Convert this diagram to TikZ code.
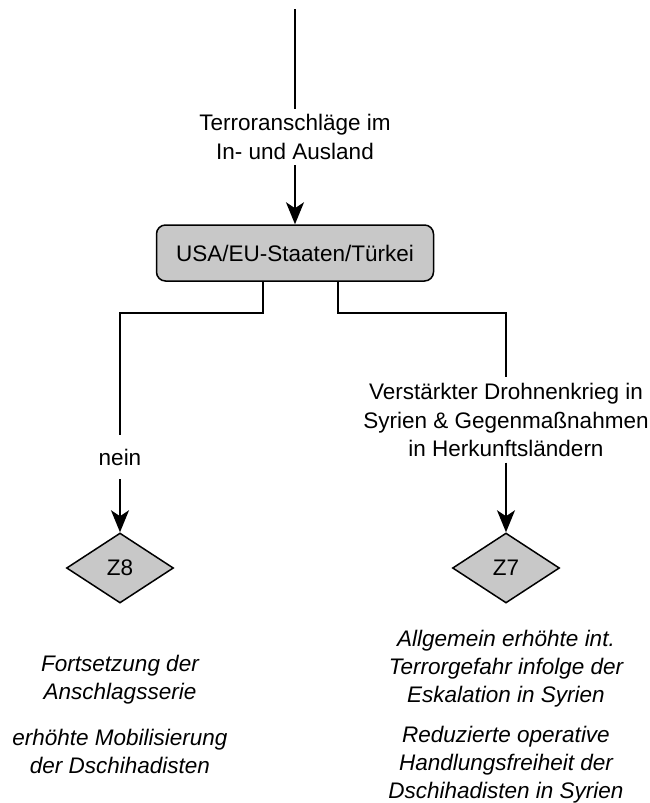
\documentclass[tikz,border=0pt]{standalone}
\usepackage{fontspec}
\setmainfont{Liberation Sans}
\usetikzlibrary{positioning,calc,arrows.meta,shapes.geometric}
\definecolor{kastengrau}{RGB}{200,200,200}
\tikzset{
	schrift/.style={font=\fontsize{22.5}{28.5}\selectfont},
	pfeil/.style={-{Stealth[length=22pt,width=18pt,inset=6pt]}},
	kasten/.style={draw, fill=kastengrau, rounded corners=9pt, minimum width=277pt, minimum height=56pt, line width=1.5pt},
	raute/.style={diamond, draw, fill=kastengrau, minimum width=107pt, minimum height=70pt, inner sep=0pt, aspect=1.5, line width=1.5pt},
	ergebnis/.style={font=\fontsize{22.5}{28}\selectfont\itshape}
}

\begin{document}
\begin{tikzpicture}[x=1pt, y=-1pt, line width=1.8pt]
	\begin{scope}
		\tikzstyle{every node}=[schrift, align=center]
		\useasboundingbox (0,0) rectangle (649,803);
		\coordinate (start) at (295,9);
		\node[inner sep=5pt] (anschlag) at (295,137) {Terroranschläge im\\In- und Ausland};
		\node[kasten] (usa) at (295,253) {USA/EU-Staaten/Türkei};
		\node[inner sep=13pt] (nein) at (120,457) {nein};
		\node[inner sep=5pt] (drohne) at (506,420) {Verstärkter Drohnenkrieg in\\Syrien \& Gegenmaßnahmen\\in Herkunftsländern};
		\node[raute] (z8) at (120,568) {Z8};
		\node[raute] (z7) at (506,568) {Z7};
		\node[ergebnis] (z8a) at (120,680) {Fortsetzung der\\Anschlagsserie};
		\node[ergebnis] (z8b) at (120,751) {erhöhte Mobilisierung\\der Dschihadisten};
		\node[ergebnis] (z7a) at (506,669) {Allgemein erhöhte int.\\Terrorgefahr infolge der\\Eskalation in Syrien};
		\node[ergebnis] (z7b) at (506,765) {Reduzierte operative\\Handlungsfreiheit der\\Dschihadisten in Syrien};

		\draw (start) -- (anschlag);
		\draw[pfeil] (anschlag) -- (usa);
		\draw ([xshift=-32pt]usa.south) -- ++(0,31) -| (nein);
		\draw[pfeil] (nein) -- (z8);
		\draw ([xshift=43pt]usa.south) -- ++(0,31) -| (drohne);
		\draw[pfeil] (drohne) -- (z7);

	\end{scope}
\end{tikzpicture}
\end{document}
